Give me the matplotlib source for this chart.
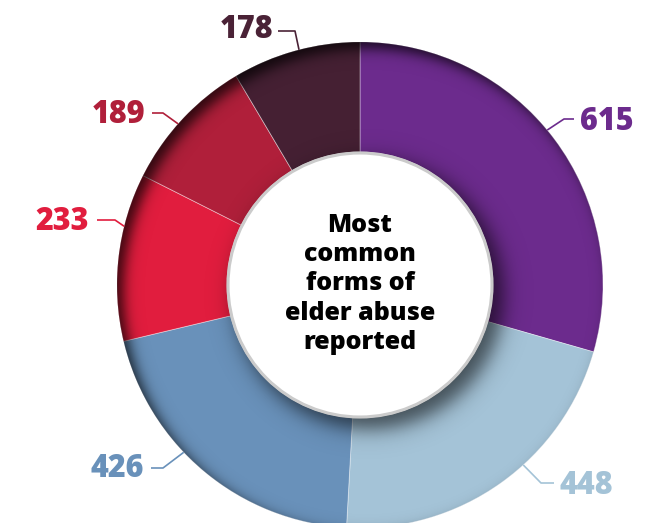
import numpy as np
import matplotlib
matplotlib.use('Agg')
import matplotlib.pyplot as plt
from matplotlib.patches import Circle, Wedge

# ---- data ----
values = [615, 448, 426, 233, 189, 178]
labels = ['615', '448', '426', '233', '189', '178']
colors = ['#6C2B8D', '#A4C3D7', '#6991BA', '#E11D3E', '#B01F3A', '#452033']
text_colors = ['#6C2B8D', '#A4C3D7', '#6991BA', '#E11D3E', '#B01F3A', '#4A2236']
center_title = 'Most\ncommon\nforms of\nelder abuse\nreported'

# ---- layout ----
W, H = 659, 523
NUM_FONT = ['Open Sans', 'DejaVu Sans']
TITLE_FONT = ['Open Sans', 'DejaVu Sans']
def P(x, y):
    return (x, H - y)

cx, cy = P(360, 285)
R, r_in = 243, 133
angle_adj = [2.6, 6.8, -6.6, -7.3, 1.5, -0.8]
elbows = [(564, 119), (541, 483), (163, 468), (115, 220), (163, 113), (295, 31)]
hends = [(574, 119), (554, 483), (151, 468), (97, 220), (152, 113), (278, 31)]
text_pos = [(580, 122, 'left'), (560, 486, 'left'), (144, 469, 'right'),
            (89, 222, 'right'), (145, 115, 'right'), (273, 30, 'right')]

fig = plt.figure(figsize=(W / 100, H / 100), dpi=100)
ax = fig.add_axes([0, 0, 1, 1])

wedges, _ = ax.pie(values, colors=colors, startangle=90, counterclock=False,
                   radius=R, center=(cx, cy), frame=True,
                   wedgeprops=dict(width=R - r_in, edgecolor=(1, 1, 1, 0.45),
                                   linewidth=0.6))
ax.set_xlim(0, W)
ax.set_ylim(0, H)
ax.axis('off')

# ---- shading overlay ----
xs = np.arange(W) + 0.5
ys = np.arange(H) + 0.5
X, Y = np.meshgrid(xs, ys)
off1 = (7.0, -7.0)
d1 = np.hypot(X - off1[0] - cx, Y - off1[1] - cy)
a1 = 0.75 / (1 + np.exp(-(d1 - R) / 4.0))
off2 = (9.0, -9.0)
d2 = np.hypot(X - off2[0] - cx, Y - off2[1] - cy)
a2 = 0.6 / (1 + np.exp(-(r_in + 2 - d2) / 6.0))
alpha = np.maximum(a1, a2)
rgba = np.zeros((H, W, 4))
rgba[..., 3] = alpha
ring = Wedge((cx, cy), R, 0, 360, width=R - r_in, transform=ax.transData)
im = ax.imshow(rgba, extent=(0, W, 0, H), origin='lower', zorder=3,
               interpolation='bilinear', aspect='auto')
im.set_clip_path(ring)
ax.set_xlim(0, W)
ax.set_ylim(0, H)

# ---- centre disc ----
ax.add_patch(Circle((cx, cy), r_in - 1, facecolor='white', edgecolor='#CBCBCB',
                    linewidth=2.2, zorder=5))
ax.text(cx, cy + 1, center_title, ha='center', va='center', fontsize=18,
        fontweight='heavy', family=TITLE_FONT, color='black', linespacing=1.23,
        zorder=6)

# ---- labels with leader lines ----
for i, w in enumerate(wedges):
    mid = np.deg2rad((w.theta1 + w.theta2) / 2 + angle_adj[i])
    sx, sy = cx + R * np.cos(mid), cy + R * np.sin(mid)
    ex, ey = P(*elbows[i])
    hx, hy = P(*hends[i])
    ax.plot([sx, ex, hx], [sy, ey, hy], color=text_colors[i], lw=1.2,
            solid_capstyle='butt', zorder=4)
    tx, ty, ha = text_pos[i]
    tx, ty = P(tx, ty)
    ax.text(tx, ty, labels[i], ha=ha, va='center', fontsize=22,
            fontweight='heavy', family=NUM_FONT, color=text_colors[i], zorder=6)

fig.savefig('out.png', dpi=100)
